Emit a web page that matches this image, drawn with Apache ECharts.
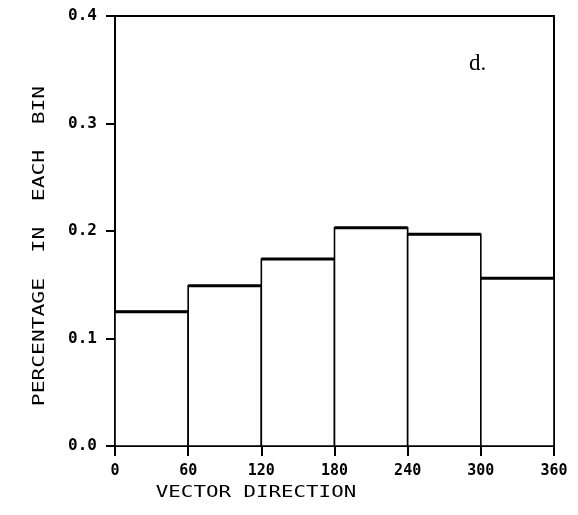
<!DOCTYPE html>
<html>
<head>
<meta charset="utf-8">
<script src="https://cdn.jsdelivr.net/npm/echarts@6/dist/echarts.min.js"></script>
<style>
html,body{margin:0;padding:0;background:#fff;}
#hist{width:578px;height:515px;}
</style>
</head>
<body>
<div id="hist"></div>
<script>
// bins of vector direction (degrees) and fraction in each bin
var binStart=[0,60,120,180,240,300];
var binEnd=[60,120,180,240,300,360];
var binPct=[0.125,0.149,0.174,0.203,0.197,0.156];
var xTicks=[0,60,120,180,240,300,360];
var yTicks=[0.0,0.1,0.2,0.3,0.4];

var plotFont='DejaVu Sans Mono';
var hist=echarts.init(document.getElementById('hist'));

var rows=[];
for(var i=0;i<binPct.length;i++){
    rows.push([binStart[i],binEnd[i],binPct[i]]);
}

var hist_option={
    animation:false,
    backgroundColor:'#fff',
    grid:{
        left:115,
        right:24,
        top:16,
        bottom:69,
        show:true,
        borderColor:'#000',
        borderWidth:2,
        backgroundColor:'transparent'
    },
    xAxis:{
        type:'value',
        min:xTicks[0],
        max:xTicks[xTicks.length-1],
        interval:60,
        axisLine:{lineStyle:{color:'#000',width:2}},
        axisTick:{show:true,inside:false,length:10,lineStyle:{color:'#000',width:2}},
        axisLabel:{color:'#000',fontFamily:plotFont,fontWeight:'bold',fontSize:15,margin:18},
        splitLine:{show:false}
    },
    yAxis:{
        type:'value',
        min:yTicks[0],
        max:yTicks[yTicks.length-1],
        interval:0.1,
        axisLine:{show:true,lineStyle:{color:'#000',width:2}},
        axisTick:{show:true,inside:false,length:9,lineStyle:{color:'#000',width:2}},
        axisLabel:{
            color:'#000',fontFamily:plotFont,fontWeight:'bold',fontSize:16,margin:18,
            formatter:function(v){return v.toFixed(1);}
        },
        splitLine:{show:false}
    },
    series:[{
        type:'custom',
        data:rows,
        encode:{x:[0,1],y:2},
        renderItem:function(params,api){
            var top=api.coord([api.value(0),api.value(2)]);
            var base=api.coord([api.value(1),0]);
            return {
                type:'group',
                children:[
                    {
                        type:'rect',
                        shape:{x:top[0],y:top[1],width:base[0]-top[0],height:base[1]-top[1]},
                        style:{fill:'#fff',stroke:'#000',lineWidth:1.6}
                    },
                    {
                        type:'line',
                        shape:{x1:top[0],y1:top[1],x2:base[0],y2:top[1]},
                        style:{stroke:'#000',lineWidth:3}
                    }
                ]
            };
        }
    }],
    graphic:[
        {
            type:'text',
            x:256,y:493,
            scaleX:1.3,
            style:{text:'VECTOR DIRECTION',fill:'#000',font:'16px "DejaVu Sans Mono"',align:'center',verticalAlign:'middle'}
        },
        {
            type:'text',
            x:40,y:246,
            rotation:Math.PI/2,
            scaleX:1.33,
            style:{text:'PERCENTAGE  IN  EACH  BIN',fill:'#000',font:'16px "DejaVu Sans Mono"',align:'center',verticalAlign:'middle'}
        },
        {
            type:'text',
            x:469,y:52,
            style:{text:'d.',fill:'#000',font:'23px "Liberation Serif"',align:'left',verticalAlign:'top'}
        }
    ]
};
hist.setOption(hist_option);
</script>
</body>
</html>
